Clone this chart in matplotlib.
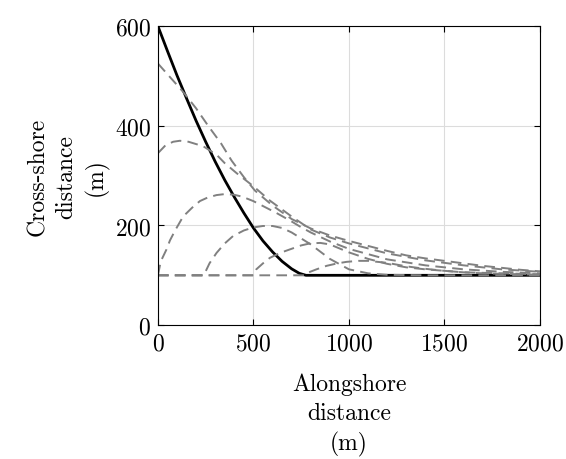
import numpy as np
import matplotlib
matplotlib.use("Agg")
import matplotlib.pyplot as plt

plt.rcParams['font.family'] = 'cmr10'
plt.rcParams['mathtext.fontset'] = 'cm'
plt.rcParams['axes.formatter.use_mathtext'] = True

# initial shoreline (solid black)
x_init = [0, 50, 100, 150, 200, 250, 300, 350, 400, 450, 500, 550, 600, 650, 700, 740, 775, 2000]
y_init = [600, 550, 501, 455, 410, 368, 328, 291, 257, 225, 195, 169, 147, 128, 113, 104, 100, 100]

# later shorelines (grey dashed)
xa = [0, 130, 200, 263, 330, 386, 450, 508, 600, 700, 800, 900, 1000, 1100, 1200, 1300, 1400, 1500, 1600, 1700, 1800, 1900, 2000]
ya = [525, 469, 435, 400, 365, 330, 297, 270, 240, 213, 194, 180, 169, 159, 149, 140, 134, 129, 124, 119, 115, 111, 108]

xb = [0, 40, 80, 115, 160, 237, 307, 350, 412, 499, 586, 700, 800, 900, 1000, 1200, 1400, 1600, 1800, 2000]
yb = [345, 361, 368, 370, 368, 359, 342, 325, 305, 279, 250, 218, 192, 176, 164, 144, 130, 120, 112, 107]

xc = [0, 15, 45, 63, 90, 132, 180, 220, 260, 307, 350, 394, 440, 499, 560, 621, 700, 743, 800, 900, 1000, 1200, 1400, 1600, 1800, 2000]
yc = [100, 128, 152, 170, 190, 218, 236, 249, 256, 261, 263, 262, 258, 249, 237, 225, 208, 198, 186, 168, 153, 132, 120, 112, 107, 104]

xd = [0, 240, 250, 270, 307, 350, 394, 450, 499, 550, 600, 650, 700, 800, 900, 1000, 1100, 1200, 1400, 2000]
yd = [100, 100, 108, 124, 145, 164, 179, 190, 196, 199, 199, 195, 186, 162, 133, 112, 104, 101, 100, 100]

xe = [0, 500, 515, 550, 586, 640, 691, 750, 796, 850, 900, 1000, 1100, 1200, 1300, 1400, 1500, 1600, 1800, 2000]
ye = [100, 100, 112, 124, 135, 145, 152, 160, 164, 165, 162, 146, 133, 123, 116, 112, 109, 106, 104, 102]

xf = [0, 770, 790, 830, 883, 940, 988, 1050, 1100, 1200, 1300, 1400, 1500, 1600, 1700, 1800, 1900, 2000]
yf = [100, 100, 106, 112, 119, 124, 127, 129, 129, 125, 118, 113, 109, 106, 104, 103, 102, 101]

fig = plt.figure(figsize=(5.66, 4.60), dpi=100)
ax = fig.add_axes([0.279, 0.291, 0.675, 0.650])

ax.plot(x_init, y_init, color='k', lw=2.0)
for xs, ys in [(xa, ya), (xb, yb), (xc, yc), (xd, yd), (xe, ye), (xf, yf)]:
    ax.plot(xs, ys, color=(0.5, 0.5, 0.5), lw=1.4, dashes=(5.5, 3.2))

ax.set_xlim(0, 2000)
ax.set_ylim(0, 600)
ax.set_xticks([0, 500, 1000, 1500, 2000])
ax.set_yticks([0, 200, 400, 600])
ax.grid(True, color='#dcdcdc', lw=0.8)
ax.set_axisbelow(True)
ax.tick_params(direction='in', top=True, right=True, labelsize=17, length=4, pad=5)
for s in ax.spines.values():
    s.set_linewidth(0.8)

ax.set_xlabel('Alongshore\ndistance\n(m)', fontsize=17, linespacing=1.4, labelpad=13)
ax.set_ylabel('Cross-shore\ndistance\n(m)', fontsize=17, linespacing=1.35, labelpad=4)

fig.savefig('out.png', dpi=100)
